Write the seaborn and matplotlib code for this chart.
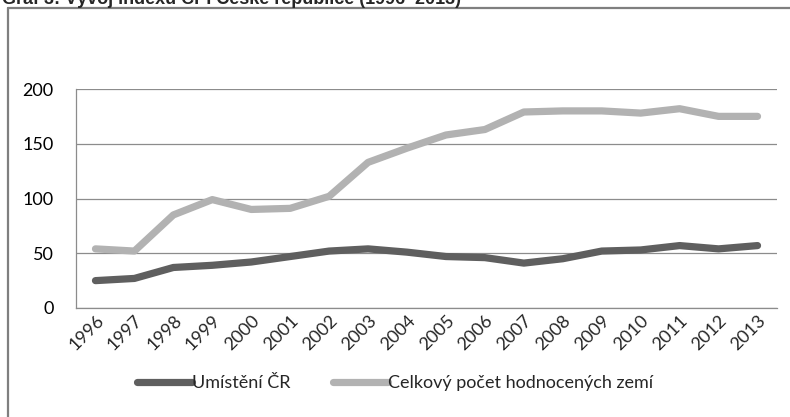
import matplotlib
matplotlib.use("Agg")
import matplotlib.pyplot as plt
import seaborn as sns
import pandas as pd
from matplotlib.lines import Line2D

years = [str(y) for y in range(1996, 2014)]
umisteni_cr = [25, 27, 37, 39, 42, 47, 52, 54, 51, 47, 46, 41, 45, 52, 53, 57, 54, 57]
celkem_zemi = [54, 52, 85, 99, 90, 91, 102, 133, 146, 158, 163, 179, 180, 180, 178, 182, 175, 175]
series_names = ["Umístění ČR", "Celkový počet hodnocených zemí"]
y_ticks = [0, 50, 100, 150, 200]
title = "Graf 3: Vývoj indexu CPI České republice (1996–2013)"

sns.set_style("white")
plt.rcParams['font.family'] = ['Lato', 'DejaVu Sans']

df = pd.DataFrame({
    "rok": years * 2,
    "hodnota": umisteni_cr + celkem_zemi,
    "serie": [series_names[0]] * len(years) + [series_names[1]] * len(years),
})

colors = {series_names[0]: "#5f5f5f", series_names[1]: "#b2b2b2"}

fig = plt.figure(figsize=(7.9, 4.17), dpi=100)
W, H = 790, 417
ax = fig.add_axes([76 / W, 1 - 308 / H, (777 - 76) / W, (308 - 89) / H])

sns.lineplot(data=df, x="rok", y="hodnota", hue="serie", palette=colors,
             linewidth=5.2, ax=ax, legend=False, sort=False)

ax.set_xlim(-0.5, len(years) - 0.5)
ax.set_ylim(0, 200)
ax.set_yticks(y_ticks)
ax.set_yticklabels([str(v) for v in y_ticks], fontsize=13, color="#000000")
ax.yaxis.grid(True, color="#8c8c8c", linewidth=0.9)
ax.set_axisbelow(True)
ax.tick_params(axis="y", length=0, pad=16)
ax.tick_params(axis="x", length=0, pad=3)
ax.set_xticks(range(len(years)))
ax.set_xticklabels(years, rotation=45, ha="right", rotation_mode="anchor", fontsize=13)
ax.set_xlabel("")
ax.set_ylabel("")
for s in ["top", "right"]:
    ax.spines[s].set_visible(False)
for s in ["left", "bottom"]:
    ax.spines[s].set_color("#8c8c8c")
    ax.spines[s].set_linewidth(0.9)

handles = [Line2D([0], [0], color=colors[n], linewidth=5.2) for n in series_names]
fig.legend(handles, series_names, loc="center", bbox_to_anchor=(0.5, 1 - 383 / H),
           ncol=2, frameon=False, fontsize=13, handlelength=3.0, handletextpad=0.0,
           columnspacing=2.4)

# outer frame (left and top edges visible)
fig.add_artist(Line2D([8 / W, 8 / W], [0, 1 - 8 / H], color="#7f7f7f", linewidth=1.6,
                      transform=fig.transFigure))
fig.add_artist(Line2D([8 / W, 1], [1 - 8 / H, 1 - 8 / H], color="#7f7f7f", linewidth=1.6,
                      transform=fig.transFigure))

# title cut off at top
fig.text(2 / W, 1 - 4 / H, title, fontsize=13, fontweight="bold",
         family=["Liberation Sans", "DejaVu Sans"], va="baseline", ha="left")

fig.savefig("out.png", dpi=100)
